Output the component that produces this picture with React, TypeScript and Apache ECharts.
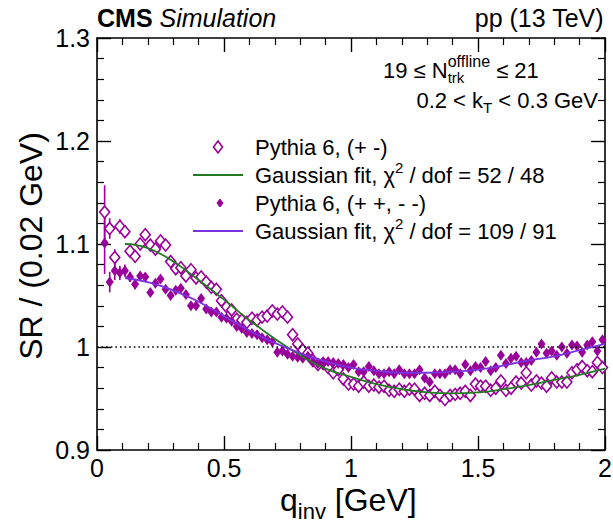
import React, { useEffect, useRef } from "react";
import * as echarts from "echarts";

const qBins = [
  0.03, 0.05, 0.07, 0.09, 0.11, 0.13, 0.15, 0.17, 0.19, 0.21, 0.23, 0.25, 0.27, 0.29, 0.31, 0.33, 0.35, 0.37, 0.39, 0.41,
  0.43, 0.45, 0.47, 0.49, 0.51, 0.53, 0.55, 0.57, 0.59, 0.61, 0.63, 0.65, 0.67, 0.69, 0.71, 0.73, 0.75, 0.77, 0.79, 0.81,
  0.83, 0.85, 0.87, 0.89, 0.91, 0.93, 0.95, 0.97, 0.99, 1.01, 1.03, 1.05, 1.07, 1.09, 1.11, 1.13, 1.15, 1.17, 1.19, 1.21,
  1.23, 1.25, 1.27, 1.29, 1.31, 1.33, 1.35, 1.37, 1.39, 1.41, 1.43, 1.45, 1.47, 1.49, 1.51, 1.53, 1.55, 1.57, 1.59, 1.61,
  1.63, 1.65, 1.67, 1.69, 1.71, 1.73, 1.75, 1.77, 1.79, 1.81, 1.83, 1.85, 1.87, 1.89, 1.91, 1.93, 1.95, 1.97, 1.99,
];

// Pythia 6, (+ -)  open diamonds
const openVals = [
  1.131, 1.115, 1.087, 1.117, 1.112, 1.093, 1.088, 1.1, 1.109, 1.099, 1.095, 1.103, 1.099, 1.083, 1.076, 1.077, 1.069, 1.075, 1.067, 1.068,
  1.063, 1.058, 1.056, 1.045, 1.039, 1.036, 1.027, 1.026, 1.024, 1.028, 1.026, 1.029, 1.03, 1.035, 1.032, 1.034, 1.029, 1.012, 1.003, 0.997,
  0.994, 0.987, 0.983, 0.984, 0.98, 0.975, 0.978, 0.969, 0.964, 0.964, 0.962, 0.966, 0.962, 0.963, 0.961, 0.962, 0.958, 0.957, 0.959, 0.957,
  0.959, 0.959, 0.953, 0.955, 0.953, 0.957, 0.953, 0.949, 0.953, 0.954, 0.955, 0.957, 0.953, 0.964, 0.962, 0.962, 0.958, 0.96, 0.967, 0.958,
  0.96, 0.966, 0.965, 0.975, 0.963, 0.967, 0.965, 0.962, 0.97, 0.966, 0.966, 0.966, 0.975, 0.978, 0.981, 0.977, 0.976, 0.985, 0.98,
];

// Pythia 6, (+ +, - -)  filled diamonds
const filledVals = [
  1.101, 1.063, 1.074, 1.072, 1.074, 1.068, 1.061, 1.069, 1.068, 1.053, 1.062, 1.066, 1.056, 1.05, 1.055, 1.057, 1.051, 1.04, 1.04, 1.047,
  1.037, 1.034, 1.034, 1.029, 1.028, 1.025, 1.02, 1.018, 1.014, 1.013, 1.012, 1.009, 1.007, 1.005, 0.995, 0.996, 0.993, 0.991, 0.99, 0.989,
  0.991, 0.986, 0.984, 0.985, 0.986, 0.985, 0.984, 0.983, 0.98, 0.983, 0.976, 0.976, 0.981, 0.977, 0.974, 0.974, 0.976, 0.974, 0.978, 0.974,
  0.974, 0.974, 0.978, 0.97, 0.966, 0.974, 0.974, 0.974, 0.978, 0.978, 0.974, 0.983, 0.977, 0.981, 0.98, 0.986, 0.977, 0.98, 0.992, 0.984,
  0.989, 0.991, 0.985, 0.985, 0.987, 0.995, 1.003, 0.994, 0.996, 0.992, 1.0, 0.994, 1.002, 1.001, 0.995, 1.002, 1.005, 0.996, 1.007,
];

// visible error bars (low q)
const errBins = [0.03, 0.05, 0.07, 0.09, 0.11, 0.13, 0.15, 0.17];
const openErr = [0.026, 0.01, 0.008, 0.007, 0.006, 0.005, 0.005, 0.004];
const filledErr = [0.03, 0.01, 0.009, 0.007, 0.006, 0.005, 0.005, 0.004];

// Gaussian fits
const fitQ = [0.11, 0.2, 0.3, 0.4, 0.5, 0.6, 0.7, 0.8, 0.9, 1.0, 1.1, 1.2, 1.3, 1.4, 1.5, 1.6, 1.7, 1.8, 1.9, 2.0];
const fitGreen = [1.1, 1.096, 1.083, 1.065, 1.046, 1.026, 1.008, 0.992, 0.979, 0.971, 0.964, 0.959, 0.956, 0.955, 0.956, 0.959, 0.963, 0.968, 0.973, 0.979];
const fitViolet = [1.067, 1.063, 1.055, 1.044, 1.03, 1.016, 1.004, 0.994, 0.986, 0.98, 0.977, 0.975, 0.975, 0.976, 0.978, 0.982, 0.987, 0.991, 0.997, 1.003];

const FONT = '"Liberation Sans", Arial, Helvetica, sans-serif';
const MAG = "#990099";
const GREEN = "#237a23";
const VIOLET = "#7a33dd";

let measureCtx: CanvasRenderingContext2D | null = null;
function textWidth(t: string, size: number, weight = "normal", style = "normal") {
  if (!measureCtx) measureCtx = document.createElement("canvas").getContext("2d");
  measureCtx!.font = `${style} ${weight} ${size}px ${FONT}`;
  return measureCtx!.measureText(t).width;
}

type Piece = { text: string; size: number; dy?: number; weight?: string; style?: string; stackNext?: boolean };

function run(pieces: Piece[], x: number, y: number, align: "left" | "right" | "center" = "left", fill = "#000") {
  const widths: number[] = [];
  let total = 0;
  pieces.forEach((p, i) => {
    const w = textWidth(p.text, p.size, p.weight, p.style);
    widths.push(w);
    if (p.stackNext) return;
    if (i > 0 && pieces[i - 1].stackNext) total += Math.max(w, widths[i - 1]);
    else total += w;
  });
  let cx = align === "left" ? x : align === "right" ? x - total : x - total / 2;
  const els: any[] = [];
  pieces.forEach((p, i) => {
    const trimmed = p.text.replace(/^\s+/, "");
    const lead = p.text.length - trimmed.length;
    const off = lead > 0 ? textWidth(p.text.slice(0, lead), p.size, p.weight, p.style) : 0;
    const font = `${p.style || "normal"} ${p.weight || "normal"} ${p.size}px ${FONT}`;
    els.push({
      type: "text",
      x: cx + off,
      y: y + (p.dy || 0),
      silent: true,
      style: {
        text: trimmed.replace(/\s+$/, ""),
        font,
        fill,
        align: "left",
        verticalAlign: "middle",
        textAlign: "left",
        textVerticalAlign: "middle",
      },
    });
    if (p.stackNext) return;
    if (i > 0 && pieces[i - 1].stackNext) cx += Math.max(widths[i], widths[i - 1]);
    else cx += widths[i];
  });
  return els;
}

function axisCommon(position: string, showLabel: boolean) {
  return {
    position,
    axisLine: { show: true, onZero: false, lineStyle: { color: "#000", width: 1.6 } },
    axisTick: { show: true, inside: true, length: 14, lineStyle: { color: "#000", width: 1.4 } },
    minorTick: { show: true, splitNumber: 5, length: 7, lineStyle: { color: "#000", width: 1.2 } },
    axisLabel: { show: showLabel, fontSize: 25, color: "#000", fontFamily: FONT },
    splitLine: { show: false },
    minorSplitLine: { show: false },
  };
}

export default function App() {
  const ref = useRef<HTMLDivElement>(null);
  useEffect(() => {
    if (!ref.current) return;
    const chart = echarts.init(ref.current, null, { renderer: "svg" });

    const openData = qBins.map((q, i) => [q, openVals[i]]);
    const filledData = qBins.map((q, i) => [q, filledVals[i]]);
    const openErrData = errBins.map((q, i) => [q, openVals[i], openErr[i]]);
    const filledErrData = errBins.map((q, i) => [q, filledVals[i], filledErr[i]]);
    const greenData = fitQ.map((q, i) => [q, fitGreen[i]]);
    const violetData = fitQ.map((q, i) => [q, fitViolet[i]]);

    const errRender = (color: string) => (params: any, api: any) => {
      const x = api.value(0);
      const y = api.value(1);
      const e = api.value(2);
      const p1 = api.coord([x, y - e]);
      const p2 = api.coord([x, y + e]);
      return {
        type: "line",
        shape: { x1: p1[0], y1: p1[1], x2: p2[0], y2: p2[1] },
        style: { stroke: color, lineWidth: 1.6 },
      };
    };

    const graphics: any[] = [];
    // header
    graphics.push(
      ...run(
        [
          { text: "CMS", size: 25, weight: "bold" },
          { text: " Simulation", size: 25, style: "italic" },
        ],
        97,
        18,
        "left"
      )
    );
    graphics.push(...run([{ text: "pp (13 TeV)", size: 25 }], 604, 18, "right"));
    // top-right info
    graphics.push(
      ...run(
        [
          { text: "19 \u2264 N", size: 22 },
          { text: "offline", size: 16, dy: -9, stackNext: true },
          { text: "trk", size: 15, dy: 7 },
          { text: " \u2264 21", size: 22 },
        ],
        383,
        70,
        "left"
      )
    );
    graphics.push(
      ...run(
        [
          { text: "0.2 < k", size: 22 },
          { text: "T", size: 15, dy: 7 },
          { text: " < 0.3 GeV", size: 22 },
        ],
        598,
        100,
        "right"
      )
    );
    // legend
    const lx = 255;
    const rows = [147, 175, 203, 231];
    graphics.push({
      type: "polygon",
      silent: true,
      shape: { points: [[218, 141], [222.5, 147], [218, 153], [213.5, 147]] },
      style: { fill: "none", stroke: MAG, lineWidth: 1.6 },
    });
    graphics.push({
      type: "line",
      silent: true,
      shape: { x1: 193, y1: rows[1], x2: 243, y2: rows[1] },
      style: { stroke: GREEN, lineWidth: 1.8 },
    });
    graphics.push({
      type: "polygon",
      silent: true,
      shape: { points: [[220, 199], [223, 203], [220, 207], [217, 203]] },
      style: { fill: MAG, stroke: MAG, lineWidth: 1 },
    });
    graphics.push({
      type: "line",
      silent: true,
      shape: { x1: 193, y1: rows[3], x2: 243, y2: rows[3] },
      style: { stroke: VIOLET, lineWidth: 1.8 },
    });
    graphics.push(...run([{ text: "Pythia 6, (+ -)", size: 22 }], lx, rows[0]));
    graphics.push(
      ...run(
        [
          { text: "Gaussian fit, \u03c7", size: 22 },
          { text: "2", size: 15, dy: -8 },
          { text: " / dof = 52 / 48", size: 22 },
        ],
        lx,
        rows[1]
      )
    );
    graphics.push(...run([{ text: "Pythia 6, (+ +, - -)", size: 22 }], lx, rows[2]));
    graphics.push(
      ...run(
        [
          { text: "Gaussian fit, \u03c7", size: 22 },
          { text: "2", size: 15, dy: -8 },
          { text: " / dof = 109 / 91", size: 22 },
        ],
        lx,
        rows[3]
      )
    );
    // axis titles
    graphics.push({
      type: "text",
      x: 31,
      y: 246,
      rotation: Math.PI / 2,
      silent: true,
      style: {
        text: "SR / (0.02 GeV)",
        font: `normal normal 32px ${FONT}`,
        fill: "#000",
        align: "center",
        verticalAlign: "middle",
        textAlign: "center",
        textVerticalAlign: "middle",
      },
    });
    graphics.push(
      ...run(
        [
          { text: "q", size: 32 },
          { text: "inv", size: 22, dy: 11 },
          { text: " [GeV]", size: 32 },
        ],
        280,
        500,
        "left"
      )
    );

    chart.setOption({
      animation: false,
      backgroundColor: "#fff",
      grid: { left: 97, right: 8, top: 38, bottom: 78, containLabel: false, outerBoundsMode: "none" },
      xAxis: [
        { type: "value", min: 0, max: 2, interval: 0.5, ...axisCommon("bottom", true), axisLabel: { show: true, fontSize: 25, color: "#000", fontFamily: FONT, margin: 5 } },
        { type: "value", min: 0, max: 2, interval: 0.5, ...axisCommon("top", false) },
      ],
      yAxis: [
        { type: "value", min: 0.9, max: 1.3, interval: 0.1, ...axisCommon("left", true), axisLabel: { show: true, fontSize: 25, color: "#000", fontFamily: FONT, margin: 7 } },
        { type: "value", min: 0.9, max: 1.3, interval: 0.1, ...axisCommon("right", false) },
      ],
      graphic: { elements: graphics },
      series: [
        {
          type: "line",
          name: "ref",
          data: [],
          markLine: {
            silent: true,
            symbol: ["none", "none"],
            label: { show: false },
            lineStyle: { color: "#000", width: 1.6, type: [1.6, 3] },
            data: [{ yAxis: 1 }],
          },
        },
        {
          type: "custom",
          name: "openErr",
          data: openErrData,
          renderItem: errRender(MAG),
          z: 3,
        },
        {
          type: "custom",
          name: "filledErr",
          data: filledErrData,
          renderItem: errRender(MAG),
          z: 3,
        },
        {
          type: "scatter",
          name: "Pythia 6, (+ -)",
          data: openData,
          symbol: "diamond",
          symbolSize: [10, 12],
          itemStyle: { color: "#fff", borderColor: MAG, borderWidth: 1.6, opacity: 1 },
          z: 4,
        },
        {
          type: "scatter",
          name: "Pythia 6, (+ +, - -)",
          data: filledData,
          symbol: "diamond",
          symbolSize: [8, 11],
          itemStyle: { color: MAG, opacity: 1 },
          z: 4,
        },
        {
          type: "line",
          name: "fit green",
          data: greenData,
          smooth: true,
          showSymbol: false,
          symbol: "none",
          lineStyle: { color: GREEN, width: 1.8 },
          z: 5,
        },
        {
          type: "line",
          name: "fit violet",
          data: violetData,
          smooth: true,
          showSymbol: false,
          symbol: "none",
          lineStyle: { color: VIOLET, width: 1.8 },
          z: 5,
        },
      ],
    });
    return () => chart.dispose();
  }, []);
  return <div ref={ref} style={{ position: "fixed", left: 0, top: 0, width: 613, height: 528, background: "#fff" }} />;
}
